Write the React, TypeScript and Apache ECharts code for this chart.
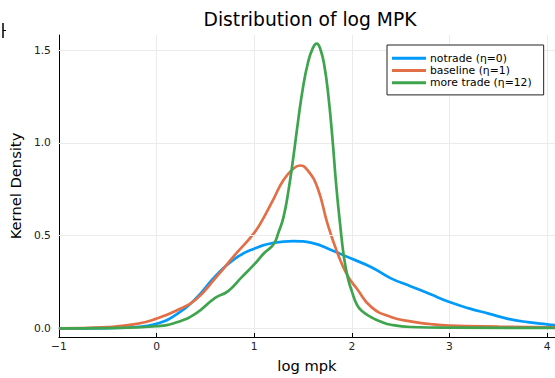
import React, { useEffect, useRef } from "react";
import * as echarts from "echarts";

const titleText = "Distribution of log MPK";
const xLabel = "log mpk";
const yLabel = "Kernel Density";
const seriesNames = ["notrade (η=0)", "baseline (η=1)", "more trade (η=12)"];
const seriesColors = ["#009AFA", "#E36F47", "#3EA44E"];
const yTicks = [0, 0.5, 1.0, 1.5];

const notradeX = [-1, -0.5, -0.2, 0, 0.2, 0.4, 0.6, 0.8, 1.0, 1.2, 1.4, 1.6, 1.8, 2.0, 2.2, 2.4, 2.6, 2.8, 3.0, 3.2, 3.4, 3.6, 3.8, 4.0, 4.1];
const notradeY = [0.0, 0.002, 0.008, 0.025, 0.075, 0.16, 0.28, 0.375, 0.43, 0.462, 0.471, 0.46, 0.42, 0.375, 0.33, 0.27, 0.228, 0.185, 0.142, 0.108, 0.08, 0.052, 0.034, 0.022, 0.017];

const baselineX = [-1, -0.5, -0.2, 0, 0.2, 0.4, 0.6, 0.8, 1.0, 1.1, 1.2, 1.3, 1.4, 1.47, 1.55, 1.65, 1.75, 1.85, 1.95, 2.05, 2.2, 2.4, 2.6, 2.8, 3.0, 3.5, 4.1];
const baselineY = [0.0, 0.008, 0.025, 0.053, 0.095, 0.155, 0.27, 0.395, 0.515, 0.6, 0.7, 0.8, 0.86, 0.878, 0.85, 0.755, 0.565, 0.41, 0.29, 0.215, 0.115, 0.062, 0.038, 0.024, 0.016, 0.01, 0.006];

const moretradeX = [-1, -0.5, 0, 0.2, 0.4, 0.6, 0.73, 0.87, 1.0, 1.1, 1.2, 1.25, 1.3, 1.35, 1.4, 1.45, 1.5, 1.55, 1.6, 1.64, 1.68, 1.72, 1.76, 1.8, 1.84, 1.88, 1.92, 1.96, 2.0, 2.05, 2.1, 2.2, 2.3, 2.4, 2.6, 3.0, 4.1];
const moretradeY = [0.0, 0.002, 0.012, 0.032, 0.08, 0.165, 0.2, 0.275, 0.345, 0.405, 0.455, 0.52, 0.6, 0.74, 0.92, 1.12, 1.3, 1.43, 1.51, 1.535, 1.5, 1.41, 1.25, 1.03, 0.77, 0.56, 0.38, 0.27, 0.2, 0.13, 0.095, 0.06, 0.036, 0.02, 0.008, 0.004, 0.003];

const xs = [notradeX, baselineX, moretradeX];
const ys = [notradeY, baselineY, moretradeY];

const FONT = "DejaVu Sans";

export default function App() {
  const ref = useRef<HTMLDivElement>(null);
  useEffect(() => {
    document.body.style.margin = "0";
    const chart = echarts.init(ref.current!, null, { renderer: "svg" });
    const lineSeries = seriesNames.map((name, i) => ({
      name,
      type: "line",
      data: xs[i].map((x, j) => [x, ys[i][j]]),
      showSymbol: false,
      symbol: "none",
      smooth: true,
      z: 3 + i,
      lineStyle: { color: seriesColors[i], width: 2.7 },
      itemStyle: { color: seriesColors[i] },
    }));
    chart.setOption({
      animation: false,
      textStyle: { fontFamily: FONT },
      title: {
        text: titleText,
        left: 305,
        top: 5,
        textAlign: "center",
        textStyle: { fontFamily: FONT, fontSize: 18.7, fontWeight: "normal", color: "#000" },
      },
      legend: {
        left: 387,
        top: 45,
        orient: "vertical",
        data: seriesNames.map((n) => ({ name: n, icon: "rect" })),
        itemWidth: 34,
        itemHeight: 3,
        itemGap: 0,
        padding: [7, 12, 6, 5],
        borderColor: "#222",
        borderWidth: 1,
        borderRadius: 0,
        backgroundColor: "#fff",
        textStyle: { fontFamily: FONT, fontSize: 10.8, color: "#000", lineHeight: 12.3, padding: [0, 0, 0, -1] },
        z: 10,
      },
      grid: { left: 57, top: 35, right: 0, bottom: 38, containLabel: false },
      xAxis: {
        type: "value",
        min: -1,
        max: 4.08,
        interval: 1,
        name: xLabel,
        nameLocation: "middle",
        nameGap: 21,
        nameTextStyle: { fontFamily: FONT, fontSize: 14.7, color: "#000" },
        axisLine: { show: true, onZero: false, lineStyle: { color: "#000", width: 1 } },
        axisTick: { show: true, inside: true, length: 4, lineStyle: { color: "#000" } },
        axisLabel: {
          showMaxLabel: false,
          margin: 4,
          fontFamily: FONT,
          fontSize: 10.7,
          color: "#222",
          formatter: (v: number) => String(v).replace("-", "\u2212"),
        },
        splitLine: { show: true, lineStyle: { color: "#ebebeb", width: 1 } },
      },
      yAxis: {
        type: "value",
        min: -0.046,
        max: 1.581,
        name: yLabel,
        nameLocation: "middle",
        nameRotate: 90,
        nameGap: 33,
        nameTextStyle: { fontFamily: FONT, fontSize: 14.7, color: "#000" },
        axisLine: { show: true, onZero: false, lineStyle: { color: "#000", width: 1 } },
        axisTick: { show: true, inside: true, length: 4, customValues: yTicks, lineStyle: { color: "#000" } },
        axisLabel: {
          customValues: yTicks,
          margin: 8,
          fontFamily: FONT,
          fontSize: 10.7,
          color: "#222",
          formatter: (v: number) => v.toFixed(1),
        },
        splitLine: { show: false },
      },
      graphic: [
        { type: "line", shape: { x1: 3, y1: 23, x2: 3, y2: 38 }, style: { stroke: "#000", lineWidth: 1.5 } },
        { type: "line", shape: { x1: 3, y1: 30.5, x2: 6, y2: 30.5 }, style: { stroke: "#000", lineWidth: 1 } },
      ],
      series: [
        {
          name: "__grid",
          type: "line",
          data: [],
          z: 1,
          silent: true,
          markLine: {
            silent: true,
            symbol: ["none", "none"],
            label: { show: false },
            lineStyle: { color: "#ebebeb", width: 1, type: "solid" },
            data: yTicks.map((v) => ({ yAxis: v })),
          },
        },
        ...lineSeries,
      ],
    });
    return () => chart.dispose();
  }, []);
  return (
    <div
      ref={ref}
      style={{ position: "absolute", left: 0, top: 0, width: 555, height: 378, background: "#fff" }}
    />
  );
}
